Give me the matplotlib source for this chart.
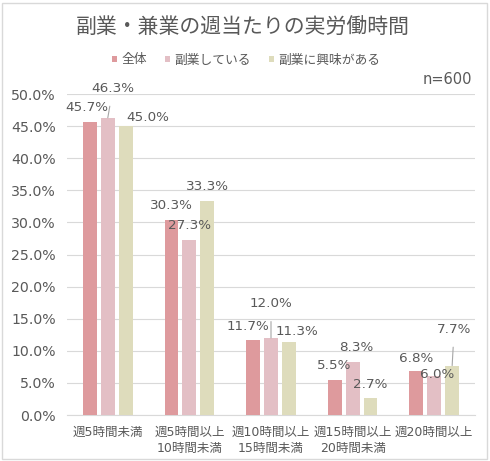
import numpy as np
import matplotlib
import matplotlib.pyplot as plt
from matplotlib.patches import Rectangle

matplotlib.use("agg")

# DejaVu for latin/digits (wide like the original), Noto CJK for Japanese
plt.rcParams["font.family"] = ["DejaVu Sans", "Noto Sans CJK JP"]

# data
categories = ["週5時間未満", "週5時間以上\n10時間未満", "週10時間以上\n15時間未満",
              "週15時間以上\n20時間未満", "週20時間以上"]
series_names = ["全体", "副業している", "副業に興味がある"]
total = [45.7, 30.3, 11.7, 5.5, 6.8]
side_job = [46.3, 27.3, 12.0, 8.3, 6.0]
interested = [45.0, 33.3, 11.3, 2.7, 7.7]
yticks = np.arange(0, 55, 5)

colors = ["#DE9A9D", "#E3BFC5", "#DEDCBC"]
text_color = "#595959"
grid_color = "#D9D9D9"

# label offsets in pixels (dx, dy) from bar top
label_offsets = [
    [(-3, 14), (5, 29), (22, 9)],
    [(0, 15), (0, 14), (0, 15)],
    [(-5, 13), (0, 34), (8, 11)],
    [(-1, 14), (4, 14), (0, 13)],
    [(0, 13), (3, 2), (2, 36)],
]
leaders = {(0, 1), (2, 1), (4, 2)}

fig = plt.figure(figsize=(4.90, 4.61), dpi=100)
ax = fig.add_axes([67 / 490, 1 - 415 / 461, 408 / 490, 321 / 461])

# border around chart
fig.patches.append(Rectangle((2 / 490, 2 / 461), 485 / 490, 456 / 461,
                             transform=fig.transFigure, fill=False,
                             edgecolor="#D9D9D9", linewidth=1.0))

x = np.arange(len(categories))
width = 0.17
step = 0.22
all_series = [total, side_job, interested]
for s, (vals, col, name) in enumerate(zip(all_series, colors, series_names)):
    xs = x + (s - 1) * step
    ax.bar(xs, vals, width, color=col, label=name, zorder=3)
    for i, v in enumerate(vals):
        dx, dy = label_offsets[i][s]
        arrow = None
        if (i, s) in leaders:
            arrow = dict(arrowstyle="-", color="#A6A6A6", lw=0.8, shrinkA=6, shrinkB=0)
        ax.annotate(f"{v:.1f}%", xy=(xs[i], v), xytext=(dx, dy),
                    textcoords="offset pixels", ha="center", va="center",
                    fontsize=9.7, color=text_color, annotation_clip=False,
                    arrowprops=arrow, zorder=6)

ax.set_xlim(-0.5, len(categories) - 0.5)
ax.set_ylim(0, 50)
ax.set_yticks(yticks)
ax.set_yticklabels([f"{t:.1f}%" for t in yticks])
ax.set_xticks(x)
ax.set_xticklabels(categories, linespacing=1.3)
ax.tick_params(axis="y", length=0, pad=8, labelsize=10.2, labelcolor=text_color)
ax.tick_params(axis="x", length=0, pad=8, labelsize=9, labelcolor=text_color)
ax.grid(axis="y", color=grid_color, linewidth=0.8, zorder=0)
for side in ["top", "right", "left"]:
    ax.spines[side].set_visible(False)
ax.spines["bottom"].set_color(grid_color)

fig.text(0.495, 1 - 28 / 461, "副業・兼業の週当たりの実労働時間", ha="center", va="center",
         fontsize=15, color=text_color)
fig.text(472 / 490, 1 - 79 / 461, "n=600", ha="right", va="center",
         fontsize=10.5, color=text_color)

ax.legend(loc="center", bbox_to_anchor=(246 / 490, 1 - 60 / 461),
          bbox_transform=fig.transFigure, ncol=3, frameon=False,
          fontsize=9.2, labelcolor=text_color, handlelength=0.45, handleheight=0.45,
          handletextpad=0.3, columnspacing=1.4)

plt.savefig("out.png", dpi=100)
